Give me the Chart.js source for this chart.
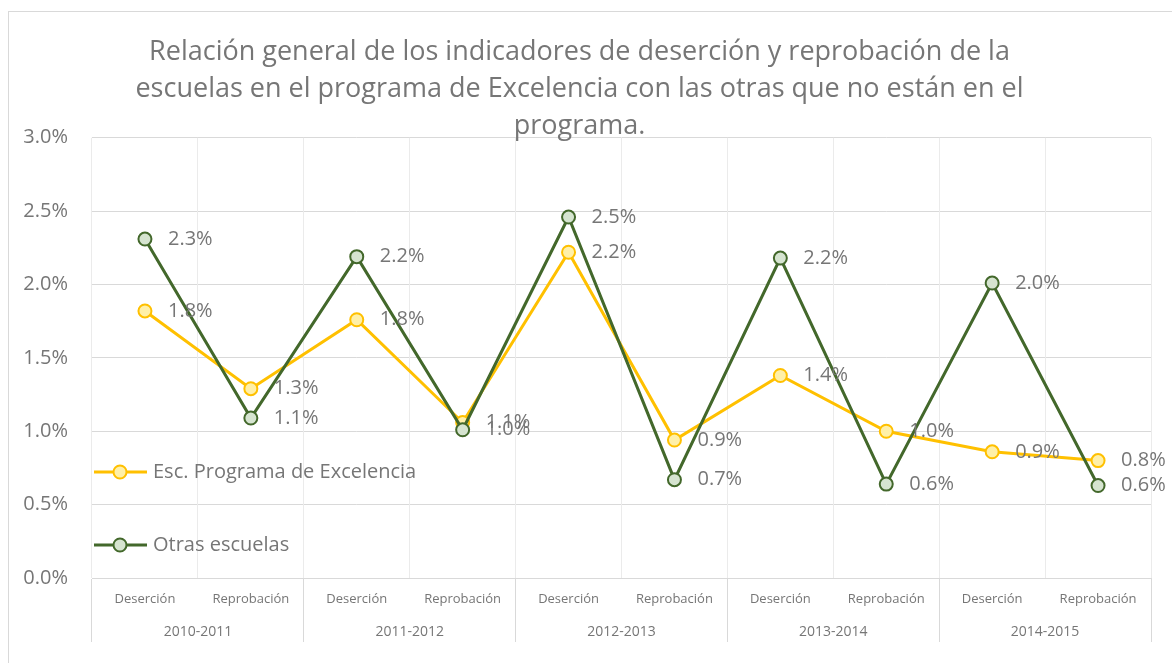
<!DOCTYPE html>
<html>
<head>
<meta charset="utf-8">
<script src="https://cdn.jsdelivr.net/npm/chart.js@4/dist/chart.umd.min.js"></script>
<style>
html,body{margin:0;padding:0;background:#fff;}
canvas{display:block;}
</style>
</head>
<body>
<canvas id="c" width="1172" height="663"></canvas>
<script>
const titleLines = [
  'Relación general de los indicadores de deserción y reprobación de la',
  'escuelas en el programa de Excelencia con las otras que no están en el',
  'programa.'
];
const years = ['2010-2011', '2011-2012', '2012-2013', '2013-2014', '2014-2015'];
const indicators = ['Deserción', 'Reprobación', 'Deserción', 'Reprobación', 'Deserción',
                    'Reprobación', 'Deserción', 'Reprobación', 'Deserción', 'Reprobación'];
const seriesNames = ['Esc. Programa de Excelencia', 'Otras escuelas'];
const excelencia = [1.82, 1.29, 1.76, 1.06, 2.22, 0.94, 1.38, 1.00, 0.86, 0.80];
const otras      = [2.31, 1.09, 2.19, 1.01, 2.46, 0.67, 2.18, 0.64, 2.01, 0.63];
const yTicks = [0, 0.5, 1.0, 1.5, 2.0, 2.5, 3.0];

const FONT = "'Open Sans', sans-serif";
const TXT = '#767676';
Chart.defaults.font.family = FONT;

const framePlugin = {
  id: 'frame',
  beforeDraw(chart) {
    const c = chart.ctx;
    c.save();
    c.fillStyle = '#ffffff';
    c.fillRect(0, 0, chart.width, chart.height);
    c.strokeStyle = '#d9d9d9';
    c.lineWidth = 1;
    c.strokeRect(8.5, 11.5, 1300, 800);
    c.restore();
  }
};

const dataLabelPlugin = {
  id: 'dataLabels',
  afterDatasetsDraw(chart) {
    const c = chart.ctx;
    c.save();
    c.font = '20px ' + FONT;
    c.fillStyle = TXT;
    c.textAlign = 'left';
    c.textBaseline = 'middle';
    chart.data.datasets.forEach((ds, i) => {
      const meta = chart.getDatasetMeta(i);
      meta.data.forEach((pt, j) => {
        c.fillText(ds.data[j].toFixed(1) + '%', pt.x + 23, pt.y);
      });
    });
    c.restore();
  }
};

const legendPlugin = {
  id: 'customLegend',
  afterDraw(chart) {
    const c = chart.ctx;
    const ca = chart.chartArea;
    const rows = [472, 545];
    c.save();
    chart.data.datasets.forEach((ds, i) => {
      const y = rows[i];
      const x0 = ca.left + 2, x1 = ca.left + 55, cx = ca.left + 28;
      c.strokeStyle = ds.borderColor;
      c.lineWidth = 3;
      c.beginPath(); c.moveTo(x0, y); c.lineTo(x1, y); c.stroke();
      c.beginPath(); c.arc(cx, y, 6.5, 0, Math.PI * 2);
      c.fillStyle = ds.pointBackgroundColor; c.fill();
      c.lineWidth = 2; c.strokeStyle = ds.pointBorderColor; c.stroke();
      c.font = '20px ' + FONT;
      c.fillStyle = TXT;
      c.textAlign = 'left';
      c.textBaseline = 'middle';
      c.fillText(ds.label, ca.left + 61, y);
    });
    c.restore();
  }
};

new Chart(document.getElementById('c'), {
  type: 'line',
  data: {
    labels: indicators,
    datasets: [
      {
        label: seriesNames[0], data: excelencia,
        borderColor: '#FFC000', backgroundColor: '#FFF0A8',
        pointBackgroundColor: '#FFF0A8', pointBorderColor: '#FFC000',
        borderWidth: 3, pointRadius: 6.5, pointBorderWidth: 2, tension: 0, order: 1
      },
      {
        label: seriesNames[1], data: otras,
        borderColor: '#43682B', backgroundColor: '#D6E4D0',
        pointBackgroundColor: '#D6E4D0', pointBorderColor: '#43682B',
        borderWidth: 3, pointRadius: 6.5, pointBorderWidth: 2, tension: 0, order: 0
      }
    ]
  },
  options: {
    responsive: false,
    animation: false,
    devicePixelRatio: 1,
    layout: { padding: { left: 8, right: 21, top: 0, bottom: 19 } },
    plugins: {
      legend: { display: false },
      tooltip: { enabled: false },
      title: {
        display: true, text: titleLines, color: TXT,
        font: { family: FONT, size: 27, weight: 'normal', lineHeight: 1.38 },
        padding: { top: 33.4, bottom: -7.4 }
      }
    },
    scales: {
      y: {
        min: 0, max: 3,
        afterBuildTicks: s => { s.ticks = yTicks.map(v => ({ value: v })); },
        afterFit: s => { s.width = 84; },
        grid: { color: '#d9d9d9', drawTicks: false },
        border: { display: false },
        ticks: {
          padding: 24, color: TXT, font: { size: 20 },
          callback: v => Number(v).toFixed(1) + '%'
        }
      },
      x: {
        weight: 0,
        offset: true,
        grid: {
          offset: true, color: '#ebebeb', drawTicks: true, tickLength: 64, tickWidth: 1,
          tickColor: ctx => (ctx.index === undefined || ctx.index % 2 === 0) ? '#d9d9d9' : 'rgba(0,0,0,0)'
        },
        border: { display: true, color: '#d9d9d9' },
        ticks: { padding: -51, color: TXT, font: { size: 13 }, maxRotation: 0, autoSkip: false },
        afterFit: s => { s.height = 33; }
      },
      x2: {
        type: 'category', labels: years, position: 'bottom', offset: true, weight: 1,
        grid: { display: false, drawTicks: false },
        border: { display: false },
        ticks: { padding: 13, color: TXT, font: { size: 14 }, maxRotation: 0, autoSkip: false },
        afterFit: s => { s.height = 33; }
      }
    }
  },
  plugins: [framePlugin, dataLabelPlugin, legendPlugin]
});
</script>
</body>
</html>
